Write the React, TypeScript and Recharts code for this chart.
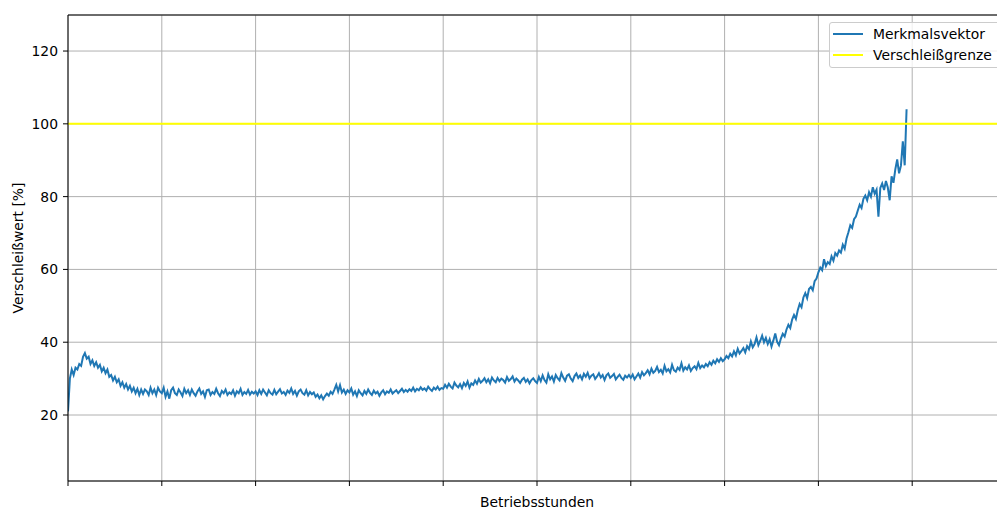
import React from 'react';
import { LineChart, Line, XAxis, YAxis, CartesianGrid, ReferenceLine } from 'recharts';

const HOUR_STEP = 0.02;

const wearRow0 = [
  21, 30, 32.5, 31, 33, 32.5, 34, 33.5, 36, 37,
  35.5, 36, 34, 35, 33.5, 34.5, 33, 33.8, 32, 33,
  31.5, 32.5, 30.5, 31, 29.5, 30.5, 29, 29.8, 28, 29,
  27.5, 28.5, 27, 28, 26.5, 27.5, 26, 27.2, 25.5, 27,
  25.8, 27, 26.5, 25.5, 27.5, 26, 27, 25.5, 27.5, 26.5,
];
const wearRow1 = [
  26, 27.5, 25, 26.5, 24.5, 26.8, 27.5, 26, 25.5, 27,
  26.2, 25.2, 27.2, 26, 26.8, 25.5, 27, 26, 25.3, 26.5,
  27.3, 25.8, 26.5, 25, 26.8, 27, 25.5, 26.3, 25.8, 27.2,
  26, 25.2, 26.6, 26, 27, 25.5, 26.2, 25.8, 26.8, 25.3,
  26.5, 26, 27.2, 25.5, 26.3, 25.8, 26.9, 25.6, 26.4, 25.9,
];
const wearRow2 = [
  26.5, 25.5, 26.8, 25.8, 27, 26.2, 25.4, 26.8, 26, 25.6,
  26.9, 25.7, 26.4, 27.1, 25.9, 26.3, 25.5, 26.7, 26.1, 27.3,
  25.8, 26.6, 25.3, 26.5, 27, 26, 25.6, 26.8, 25.4, 26.3,
  25.7, 26.2, 25, 25.6, 24.6, 25.4, 24.3, 25.2, 25.9, 25.3,
  26.4, 25.8, 27, 28.3, 26.5, 28.2, 26.2, 27, 25.8, 26.8,
];
const wearRow3 = [
  26.2, 27.3, 25.6, 26.5, 25.2, 26.8, 26, 25.4, 26.6, 25.8,
  27, 26.1, 25.5, 26.7, 25.9, 26.4, 25.3, 26.2, 26.8, 25.7,
  26.5, 26.1, 27, 25.9, 26.4, 26.8, 26, 26.6, 27.2, 26.3,
  26.9, 26.4, 27.1, 26.6, 27.5, 26.5, 27.2, 26.8, 27.6, 26.9,
  27.3, 26.7, 27.8, 27.1, 26.6, 27.5, 27, 27.8, 26.9, 27.4,
];
const wearRow4 = [
  27.2, 28.3, 27.5, 28.6, 27.8, 27.3, 28.9, 28.1, 27.6, 28.5,
  27.4, 28.8, 28, 29.2, 27.5, 28.7, 28.3, 29.5, 28.6, 29.9,
  28.9, 29.4, 30.1, 29, 29.8, 28.7, 30.3, 29.5, 29, 30.2,
  29.3, 30, 29.6, 28.9, 30.4, 29.4, 29.9, 30.6, 29.2, 30,
  29.5, 28.8, 29.7, 30.2, 29.1, 29.8, 28.7, 29.6, 30.1, 29.3,
];
const wearRow5 = [
  28.8, 30.5, 29.3, 30.9, 29.6, 28.9, 31.2, 29.8, 30.6, 29.2,
  31, 30.1, 29.5, 31.5, 30.3, 29.4, 30.8, 31.2, 30, 29.3,
  30.7, 31.4, 30.2, 30.9, 29.8, 31.3, 30.5, 31.6, 30.1, 30.8,
  31.2, 29.9, 30.6, 31.5, 30.3, 31, 29.6, 30.9, 31.4, 30.2,
  30.7, 31.3, 29.8, 30.5, 31.1, 30.2, 29.7, 30.8, 30.3, 31,
];
const wearRow6 = [
  30.2, 31.1, 29.8, 30.6, 31.4, 30.3, 31.8, 30.9, 31.5, 32.3,
  31.2, 32.7, 31.6, 32.1, 33.2, 31.8, 32.4, 31.4, 33.5, 32,
  32.6, 31.7, 33.8, 32.3, 31.9, 33, 32.4, 34.2, 32.2, 33.1,
  32.5, 33.6, 32.1, 32.9, 33.4, 32.6, 34.3, 32.9, 33.6, 33.1,
  34, 33.4, 34.5, 33.8, 34.9, 34.2, 35.3, 34.6, 35.6, 34.8,
];
const wearRow7 = [
  35.3, 36.2, 35.6, 36.8, 36.1, 37.5, 36.4, 38.2, 36.9, 37.6,
  38.4, 37.2, 38.9, 38.1, 40.2, 38.6, 39.5, 41.3, 39.2, 40.4,
  41.8, 40, 41.2, 39.5, 40.8, 38.8, 40.5, 42.4, 40.1, 39.2,
  41, 42.3, 41.6, 43.5, 44.8, 43.9, 46.2, 47.5, 46.4, 48.8,
  50.5, 49.6, 52.3, 53.5, 52.1, 54.6, 55.2, 54.3, 56.8, 57.5,
];
const wearRow8 = [
  59.2, 60.5, 59.8, 62.8, 60.9, 62, 61.5, 63.6, 62.4, 64.5,
  63.8, 65.2, 64.6, 66.8, 65.7, 68.5, 70.2, 72.1, 71.4, 73.8,
  74.5, 76.2, 77.8, 76.9, 79.4, 80.3, 79, 81.2, 80, 82.6,
  80.8, 81.9, 74.5, 82.4, 83.6, 81.8, 84.3, 82.5, 79, 85.6,
  83.8, 87.5, 90.2, 86.4, 88.5, 95.2, 88.6, 104,
];

const featureVector = [
  ...wearRow0, ...wearRow1, ...wearRow2, ...wearRow3, ...wearRow4,
  ...wearRow5, ...wearRow6, ...wearRow7, ...wearRow8,
];

const wearLimit = 100;
const xTicks = [0, 1, 2, 3, 4, 5, 6, 7, 8, 9];
const yTicks = [20, 40, 60, 80, 100, 120];
const xDomain = [0, 10];
const yDomain = [1.87, 129.9];

const seriesName = 'Merkmalsvektor';
const limitName = 'Verschleißgrenze';
const xLabel = 'Betriebsstunden';
const yLabel = 'Verschleißwert [%]';

const data = featureVector.map((v, i) => ({ hours: +(i * HOUR_STEP).toFixed(2), merkmal: v }));

const FONT = 'DejaVu Sans, Verdana, sans-serif';
const FS = 13.9;

const YLabel = (props: any) => {
  const vb = props.viewBox || {};
  const cx = vb.x + 18;
  const cy = vb.y + vb.height / 2;
  return (
    <text x={cx} y={cy} transform={`rotate(-90 ${cx} ${cy})`} textAnchor="middle" dominantBaseline="central"
      fontSize={FS} fontFamily={FONT} fill="#000">
      {yLabel}
    </text>
  );
};

const EmptyTick = () => <g />;

export default function App() {
  return (
    <div style={{ position: 'absolute', left: 0, top: 0, width: 997, height: 509, overflow: 'hidden', background: '#fff' }}>
      <LineChart width={1010} height={509} data={data} margin={{ top: 15, right: 4, bottom: 0, left: 0 }}>
        <CartesianGrid stroke="#b0b0b0" strokeWidth={1} />
        <XAxis
          dataKey="hours"
          type="number"
          domain={xDomain}
          ticks={xTicks}
          allowDataOverflow
          tick={<EmptyTick />}
          tickSize={5}
          height={28}
          axisLine={{ stroke: '#000' }}
          tickLine={{ stroke: '#000' }}
          label={{ value: xLabel, position: 'insideBottom', offset: 2, fontSize: FS, fontFamily: FONT, fill: '#000' }}
        />
        <YAxis
          type="number"
          domain={yDomain}
          ticks={yTicks}
          allowDataOverflow
          width={68}
          tickSize={5}
          tickMargin={5}
          axisLine={{ stroke: '#000' }}
          tickLine={{ stroke: '#000' }}
          tick={{ fill: '#000', fontSize: FS, fontFamily: FONT }}
          label={<YLabel />}
        />
        <ReferenceLine y={yDomain[1]} stroke="#000" strokeWidth={1} />
        <Line dataKey="merkmal" name={seriesName} stroke="#1f77b4" strokeWidth={2} dot={false} isAnimationActive={false} />
        <ReferenceLine y={wearLimit} stroke="#ffff00" strokeWidth={2} />
      </LineChart>
      <div
        style={{
          position: 'absolute', left: 829, top: 22, width: 176, height: 46, boxSizing: 'border-box',
          border: '1px solid #cccccc', borderRadius: 3, background: 'rgba(255,255,255,0.8)',
          fontFamily: FONT, fontSize: FS, color: '#000',
        }}
      >
        <div style={{ position: 'absolute', left: 3, top: 10, width: 30, height: 2, background: '#1f77b4' }} />
        <div style={{ position: 'absolute', left: 43, top: 2, lineHeight: '18px', whiteSpace: 'nowrap' }}>{seriesName}</div>
        <div style={{ position: 'absolute', left: 3, top: 31, width: 30, height: 2, background: '#ffff00' }} />
        <div style={{ position: 'absolute', left: 43, top: 23, lineHeight: '18px', whiteSpace: 'nowrap' }}>{limitName}</div>
      </div>
    </div>
  );
}
